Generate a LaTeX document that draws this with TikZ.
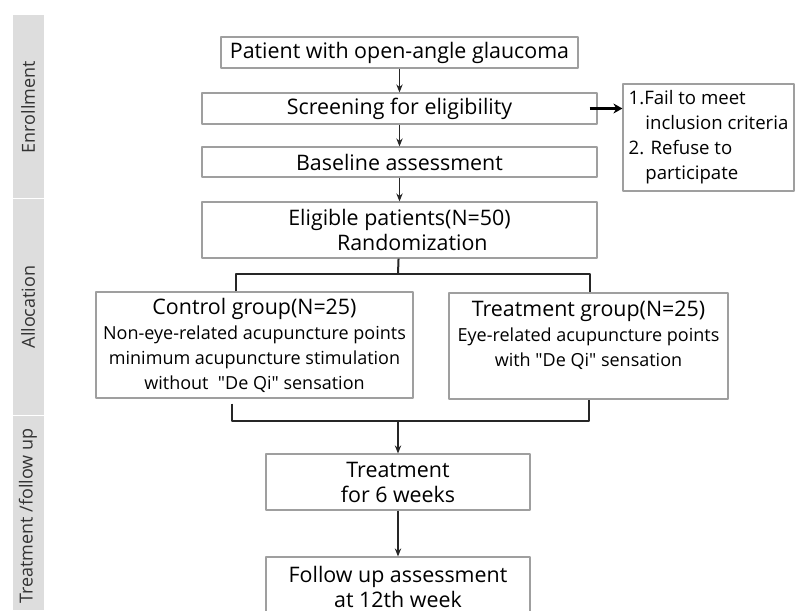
\documentclass[tikz,border=0pt]{standalone}
\usepackage{fontspec}
\setmainfont{Open Sans}[Ligatures=TeXOff]
\usetikzlibrary{arrows.meta}

\begin{document}
\begin{tikzpicture}[x=0.5pt,y=-0.5pt,line join=round,>={Stealth[length=4pt,width=3.2pt]},
	box/.style={draw=gray!75,line width=0.6pt,inner sep=0pt,align=center,font=\fontsize{10.7}{12.5}\selectfont},
	small/.style={font=\fontsize{8.3}{12.5}\selectfont},
	phase/.style={rotate=90,text=black!80,font=\fontsize{9}{10}\selectfont},
	link/.style={draw=black!85,line width=0.6pt},
	branch/.style={draw=black!85,line width=1pt}]
	\useasboundingbox (0,0) rectangle (795,610);
	% phase bar
	\fill[gray!27] (13,15) rectangle (44,198);
	\fill[gray!27] (13,199) rectangle (44,415);
	\fill[gray!27] (13,416) rectangle (44,610);
	\node[phase] (enrol) at (28,107) {Enrollment};
	\node[phase] (alloc) at (28,307) {Allocation};
	\node[phase] (follow) at (28,516) {Treatment /follow up};
	% boxes
	\node[box,minimum width=178.5pt,minimum height=15.5pt] (patient) at (399.5,52.5) {Patient with open-angle glaucoma};
	\node[box,minimum width=197.5pt,minimum height=15.5pt] (screen) at (399.5,108.5) {Screening for eligibility};
	\node[box,minimum width=197.5pt,minimum height=15pt] (base) at (399.5,162) {Baseline assessment};
	\node[box,minimum width=197.5pt,minimum height=28pt] (elig) at (399.5,230) {Eligible patients(N=50)\\\hspace*{1.2em}Randomization};
	\node[box,minimum width=85.5pt,minimum height=53.5pt,align=left,font=\fontsize{9.3}{12.5}\selectfont] (excl) at (708.5,137.5)
		{1.Fail to meet\\\hspace*{0.9em}inclusion criteria\\2. Refuse to\\\hspace*{0.9em}participate};
	\node[box,minimum width=158.5pt,minimum height=53pt] (ctrl) at (254.5,345)
		{Control group(N=25)\\{\small Non-eye-related acupuncture points}\\{\small minimum acupuncture stimulation}\\{\small without\ \ "De Qi" sensation}};
	\node[box,minimum width=139.5pt,minimum height=53pt] (acu) at (588.5,346)
		{Treatment group(N=25)\\{\small Eye-related acupuncture points}\\{\small with "De Qi" sensation}\\~};
	\node[box,minimum width=132pt,minimum height=28pt] (treat) at (398,482) {Treatment\\for 6 weeks};
	\node[box,minimum width=132pt,minimum height=30pt] (fup) at (398,587) {Follow up assessment\\at 12th week};
	% junctions
	\path (398,274) coordinate (split)
		(236,274) coordinate (sl)
		(590,274) coordinate (sr)
		(232,421) coordinate (ml)
		(589,421) coordinate (mr)
		(398,421) coordinate (merge);
	% connectors
	\draw[link,->] (patient) -- (screen);
	\draw[link,->] (screen) -- (base);
	\draw[link,->] (base) -- (elig);
	\draw[line width=1.8pt,-{Stealth[length=4.5pt,width=5pt]}] ([xshift=-4pt]screen.east) -- (excl.west |- screen.east);
	\draw[branch] (elig) -- (split);
	\draw[branch] (ctrl.north -| sl) -- (sl) -- (sr) -- (acu.north -| sr);
	\draw[branch] ([yshift=-2.5pt]ctrl.south -| ml) -- (ml) -- (mr) -- (acu.south -| mr);
	\draw[link,->] (merge) -- (treat);
	\draw[link,->] (treat) -- (fup);
\end{tikzpicture}
\end{document}
